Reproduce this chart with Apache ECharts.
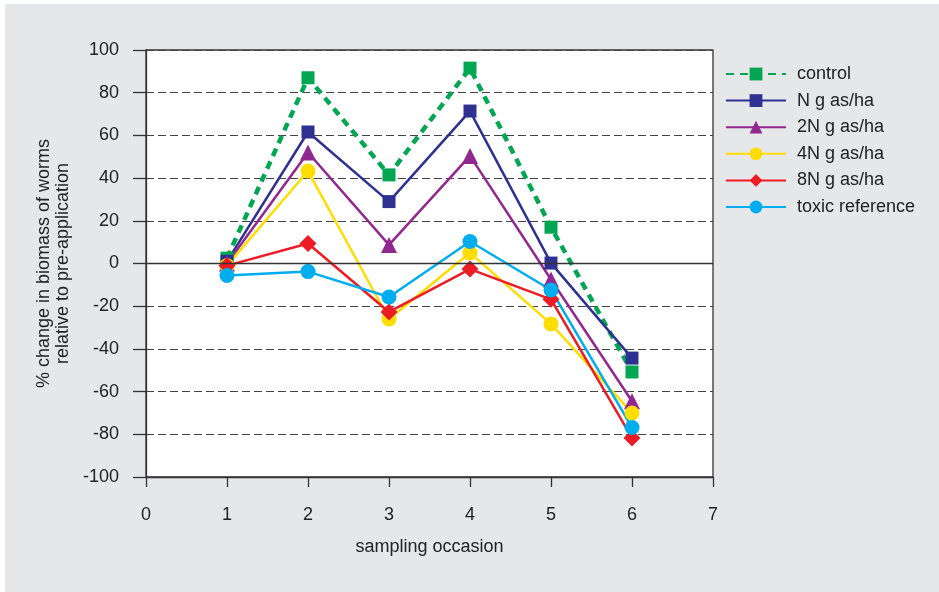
<!DOCTYPE html>
<html>
<head>
<meta charset="utf-8">
<script src="https://cdn.jsdelivr.net/npm/echarts@6/dist/echarts.min.js"></script>
<style>
html,body{margin:0;padding:0;background:#fff;}
#chart{width:939px;height:592px;}
</style>
</head>
<body>
<div id="chart"></div>
<script>
const occasions = [1, 2, 3, 4, 5, 6];
const seriesNames = ['control', 'N g as/ha', '2N g as/ha', '4N g as/ha', '8N g as/ha', 'toxic reference'];
const control = [2.5, 87, 41.5, 91.5, 17, -50.8];
const nDose = [1, 61.6, 29, 71.4, 0.2, -44.3];
const n2Dose = [0, 52, 8.7, 50.4, -7.5, -64.5];
const n4Dose = [-1, 43.3, -26, 5, -28.3, -70];
const n8Dose = [-1, 9.4, -22.7, -2.6, -16.8, -81.7];
const toxicRef = [-5.6, -3.8, -15.7, 10.3, -12.4, -76.8];
const yTicks = [-100, -80, -60, -40, -20, 0, 20, 40, 60, 80, 100];
const xTicks = [0, 1, 2, 3, 4, 5, 6, 7];

const values = [control, nDose, n2Dose, n4Dose, n8Dose, toxicRef];
const colors = ['#00a651', '#2e3192', '#92278f', '#ffdd00', '#ed1c24', '#00aeef'];
const symbols = ['rect', 'rect', 'triangle', 'circle', 'diamond', 'circle'];
const symbolSizes = [13, 13, 16, 15, 17, 15];
const FONT = "'Liberation Sans', Arial, sans-serif";

const chart = echarts.init(document.getElementById('chart'), null, {renderer: 'canvas'});

const series = values.map((vals, i) => ({
  name: seriesNames[i],
  type: 'line',
  data: occasions.map((x, j) => [x, vals[j]]),
  symbol: symbols[i],
  symbolSize: symbolSizes[i],
  showAllSymbol: true,
  lineStyle: {color: colors[i], width: i === 0 ? 4.5 : 2.5, type: i === 0 ? [8, 6] : 'solid'},
  itemStyle: {color: colors[i]},
  emphasis: {disabled: true},
  animation: false,
  z: 3
}));

series.push({
  name: 'zero',
  type: 'line',
  data: [],
  silent: true,
  z: 2,
  markLine: {
    silent: true,
    symbol: 'none',
    label: {show: false},
    lineStyle: {color: '#333', width: 1.3, type: 'solid'},
    data: [{yAxis: 0}],
    animation: false
  }
});

const option = {
  backgroundColor: '#ffffff',
  animation: false,
  graphic: [{
    type: 'rect',
    left: 5, top: 4,
    shape: {width: 934, height: 588},
    style: {fill: '#e6e7e9'},
    z: -10, silent: true
  }],
  grid: {
    left: 146, right: 226, top: 50, bottom: 115,
    show: true, backgroundColor: '#ffffff', borderColor: '#333', borderWidth: 1.3
  },
  legend: {
    orient: 'vertical',
    left: 720, top: 60,
    itemWidth: 60, itemHeight: 16, itemGap: 8.6,
    data: seriesNames,
    textStyle: {fontFamily: FONT, fontSize: 18, color: '#222', padding: [0, 0, 0, 6]},
    selectedMode: false
  },
  xAxis: {
    type: 'value',
    min: xTicks[0], max: xTicks[xTicks.length - 1], interval: 1,
    name: 'sampling occasion',
    nameLocation: 'middle',
    nameGap: 61,
    nameTextStyle: {fontFamily: FONT, fontSize: 18, color: '#222'},
    axisLine: {show: true, onZero: false, lineStyle: {color: '#333', width: 1.3}},
    axisTick: {show: true, length: 10, lineStyle: {color: '#333', width: 1.3}},
    axisLabel: {fontFamily: FONT, fontSize: 18, color: '#222', margin: 29},
    splitLine: {show: false}
  },
  yAxis: {
    type: 'value',
    min: yTicks[0], max: yTicks[yTicks.length - 1], interval: 20,
    name: '% change in biomass of worms\nrelative to pre-application',
    nameLocation: 'middle',
    nameRotate: 90,
    nameGap: 68,
    nameTextStyle: {fontFamily: FONT, fontSize: 18, color: '#222', lineHeight: 19},
    axisLine: {show: true, onZero: false, lineStyle: {color: '#333', width: 1.3}},
    axisTick: {show: true, length: 13, lineStyle: {color: '#333', width: 1.3}},
    axisLabel: {fontFamily: FONT, fontSize: 18, color: '#222', margin: 27},
    splitLine: {show: true, lineStyle: {color: '#444', width: 1, type: [8, 4]}}
  },
  series: series
};

chart.setOption(option);
</script>
</body>
</html>
